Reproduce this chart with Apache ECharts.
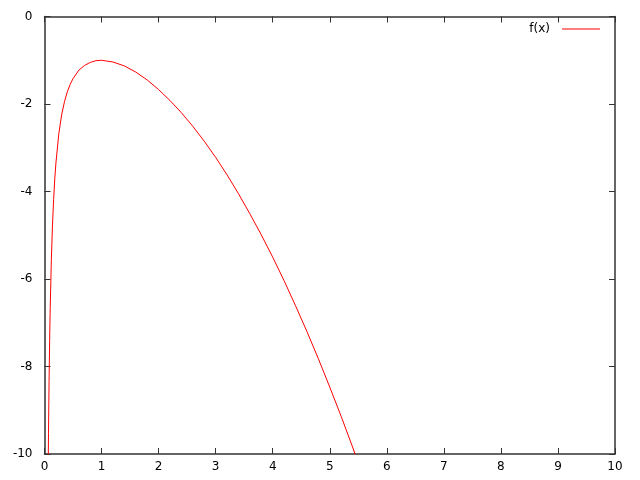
<!DOCTYPE html>
<html>
<head>
<meta charset="utf-8">
<script src="https://cdn.jsdelivr.net/npm/echarts@6/dist/echarts.min.js"></script>
<style>
  html, body { margin: 0; padding: 0; background: #fff; }
  #main { width: 640px; height: 480px; }
</style>
</head>
<body>
<div id="main"></div>
<script>
// values
const xs = [0.06, 0.07, 0.08, 0.09, 0.1, 0.12, 0.14, 0.16, 0.18, 0.2, 0.25, 0.3, 0.35, 0.4, 0.45, 0.5,
  0.6, 0.7, 0.8, 0.9, 1.0, 1.2, 1.4, 1.6, 1.8, 2.0, 2.2, 2.4, 2.6, 2.8, 3.0, 3.2, 3.4, 3.6, 3.8,
  4.0, 4.2, 4.4, 4.6, 4.8, 5.0, 5.2, 5.4, 5.6]
const ys = [-11.11, -9.53, -8.34, -7.41, -6.67, -5.56, -4.77, -4.18, -3.71, -3.35, -2.69, -2.25, -1.95, -1.72, -1.55, -1.42,
  -1.23, -1.12, -1.05, -1.01, -1.0, -1.04, -1.13, -1.27, -1.45, -1.67, -1.92, -2.2, -2.51, -2.85, -3.22, -3.62, -4.05, -4.51, -4.99,
  -5.5, -6.04, -6.61, -7.2, -7.82, -8.47, -9.14, -9.84, -10.57]
const xTicks = [0, 1, 2, 3, 4, 5, 6, 7, 8, 9, 10]
const yTicks = [-10, -8, -6, -4, -2, 0]
const seriesName = 'f(x)'

const chartDom = document.getElementById('main')
const myChart = echarts.init(chartDom, null, { renderer: 'canvas' })

const axisColor = '#333'
const fontFamily = 'DejaVu Sans'

function xAxisDef(pos, labels) {
  return {
    type: 'value',
    position: pos,
    min: xTicks[0],
    max: xTicks[xTicks.length - 1],
    interval: 1,
    axisLine: { show: true, onZero: false, lineStyle: { color: axisColor, width: 1.5 } },
    axisTick: { show: true, inside: true, length: 6, lineStyle: { color: axisColor } },
    axisLabel: { show: labels, color: '#000', fontFamily: fontFamily, fontSize: 12, margin: 7 },
    splitLine: { show: false },
  }
}
function yAxisDef(pos, labels) {
  return {
    type: 'value',
    position: pos,
    min: yTicks[0],
    max: yTicks[yTicks.length - 1],
    interval: 2,
    axisLine: { show: true, onZero: false, lineStyle: { color: axisColor, width: 1.5 } },
    axisTick: { show: true, inside: true, length: 6, lineStyle: { color: axisColor } },
    axisLabel: { show: labels, color: '#000', fontFamily: fontFamily, fontSize: 12, margin: 12 },
    splitLine: { show: false },
  }
}

let option = {
  backgroundColor: '#ffffff',
  animation: false,
  grid: { left: 44.5, right: 25, top: 16.5, bottom: 26, containLabel: false },
  legend: {
    right: 35,
    top: 18,
    align: 'right',
    itemWidth: 38,
    itemHeight: 1,
    itemGap: 0,
    textStyle: { color: '#000', fontFamily: fontFamily, fontSize: 12, padding: [0, 7, 0, 0] },
    data: [{ name: seriesName, icon: 'rect' }],
  },
  xAxis: [xAxisDef('bottom', true), xAxisDef('top', false)],
  yAxis: [yAxisDef('left', true), yAxisDef('right', false)],
  series: [
    {
      name: seriesName,
      type: 'line',
      data: xs.map((x, i) => [x, ys[i]]),
      symbol: 'none',
      clip: true,
      lineStyle: { color: '#ff0000', width: 1 },
      itemStyle: { color: '#ff0000' },
    },
  ],
}
myChart.setOption(option)
</script>
</body>
</html>
